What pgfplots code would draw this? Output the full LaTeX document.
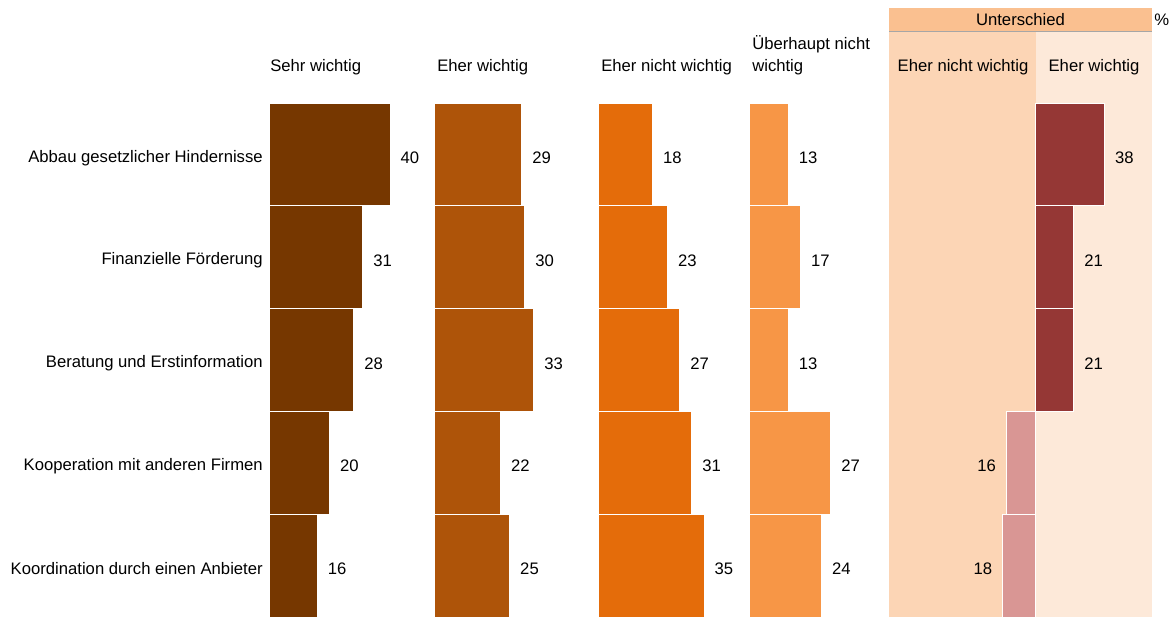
\documentclass[border=0pt]{standalone}
\usepackage{pgfplots}
\pgfplotsset{compat=1.18}
\usepackage{fontspec}
\setmainfont{Liberation Sans}

\definecolor{sehr}{HTML}{763700}
\definecolor{eher}{HTML}{AE5409}
\definecolor{ehernicht}{HTML}{E46C0A}
\definecolor{ueberhaupt}{HTML}{F79646}
\definecolor{diffpos}{HTML}{953735}
\definecolor{diffneg}{HTML}{D99694}
\definecolor{bgleft}{HTML}{FCD5B5}
\definecolor{bgright}{HTML}{FDE9D9}
\definecolor{headfill}{HTML}{FAC090}
\definecolor{headline}{HTML}{A6A6A6}

% position in pixel-like units measured from the top left corner
\newcommand{\pos}[2]{({#1*0.75pt},{(617-#2)*0.75pt})}

\pgfplotsset{
  colbar/.style={
    xbar, scale only axis, clip=false,
    height=385.5pt,
    ymin=-0.5, ymax=4.5, y dir=reverse,
    bar width=1, bar shift=0pt,
    anchor=south west,
    /pgf/number format/assume math mode=true,
    nodes near coords,
    every node near coord/.append style={anchor=west, inner sep=0pt, xshift=7.5pt, yshift=-2.5pt, font=\fontsize{12.5}{15}\selectfont, text=black},
  },
  plainbar/.style={draw=white, line width=0.75pt, fill=#1},
}

\begin{document}
\fontsize{12.5}{15}\selectfont
\begin{tikzpicture}
\useasboundingbox (0,0) rectangle (879.75pt,462.75pt);

% background of the difference panel
\fill[bgleft] \pos{889}{32} rectangle \pos{1035.5}{617};
\fill[bgright] \pos{1035.5}{32} rectangle \pos{1152}{617};
\fill[headfill] \pos{889}{8} rectangle \pos{1152}{31};
\draw[headline, line width=1.2pt] \pos{889}{31.5} -- \pos{1152}{31.5};
\node at \pos{1020.5}{20} {Unterschied};
\node[anchor=west, inner sep=0pt] at \pos{1154}{20} {\%};

% column headings
\node[anchor=base west, inner sep=0pt] at \pos{270}{72} {Sehr wichtig};
\node[anchor=base west, inner sep=0pt] at \pos{437}{72} {Eher wichtig};
\node[anchor=base west, inner sep=0pt] at \pos{601}{72} {Eher nicht wichtig};
\node[anchor=base west, inner sep=0pt] at \pos{752}{50} {Überhaupt nicht};
\node[anchor=base west, inner sep=0pt] at \pos{752}{72} {wichtig};
\node[anchor=base, inner sep=0pt] at \pos{963}{72} {Eher nicht wichtig};
\node[anchor=base, inner sep=0pt] at \pos{1094}{72} {Eher wichtig};

% Sehr wichtig (with category labels)
\begin{axis}[colbar, at={(201.75pt,0pt)}, width=113.6pt, xmin=0, xmax=50,
  axis line style={draw=none}, xtick=\empty, ytick={0,...,4},
  major tick length=0pt,
  yticklabels={Abbau gesetzlicher Hindernisse, Finanzielle Förderung, Beratung und Erstinformation, Kooperation mit anderen Firmen, Koordination durch einen Anbieter},
  yticklabel style={anchor=east, inner sep=0pt, xshift=-4.5pt, yshift=-2.5pt, font=\fontsize{12.5}{15}\selectfont}]
\addplot[plainbar=sehr] coordinates {(40,0) (31,1) (28,2) (20,3) (16,4)};
\end{axis}

% Eher wichtig
\begin{axis}[colbar, hide axis, at={(325.5pt,0pt)}, width=113.6pt, xmin=0, xmax=50]
\addplot[plainbar=eher] coordinates {(29,0) (30,1) (33,2) (22,3) (25,4)};
\end{axis}

% Eher nicht wichtig
\begin{axis}[colbar, hide axis, at={(448.5pt,0pt)}, width=113.6pt, xmin=0, xmax=50]
\addplot[plainbar=ehernicht] coordinates {(18,0) (23,1) (27,2) (31,3) (35,4)};
\end{axis}

% Ueberhaupt nicht wichtig
\begin{axis}[colbar, hide axis, at={(561.75pt,0pt)}, width=113.6pt, xmin=0, xmax=50]
\addplot[plainbar=ueberhaupt] coordinates {(13,0) (17,1) (13,2) (27,3) (24,4)};
\end{axis}

% Unterschied: eher wichtig minus eher nicht wichtig
\begin{axis}[colbar, hide axis, at={(666.75pt,0pt)}, width=197.25pt, xmin=-80.5, xmax=64,
  point meta=explicit]
\addplot[plainbar=diffpos] coordinates {(38,0) [38] (21,1) [21] (21,2) [21]};
\addplot[plainbar=diffneg, every node near coord/.append style={anchor=east, xshift=-15pt}]
  coordinates {(-16,3) [16] (-18,4) [18]};
\end{axis}
\end{tikzpicture}
\end{document}
